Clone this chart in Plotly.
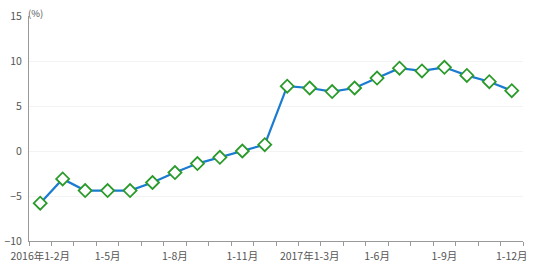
import plotly.graph_objects as go

categories = (["2016年1-2月"] + [f"1-{m}月" for m in range(3, 13)]
              + ["2017年1-2月"] + [f"1-{m}月" for m in range(3, 13)])
values = [-5.8, -3.1, -4.4, -4.4, -4.4, -3.5, -2.4, -1.4, -0.7, 0.0, 0.7,
          7.2, 7.0, 6.6, 7.0, 8.1, 9.2, 8.9, 9.3, 8.4, 7.7, 6.7]
tick_idx = [0, 3, 6, 9, 12, 15, 18, 21]
tick_text = ["2016年1-2月", "1-5月", "1-8月", "1-11月", "2017年1-3月", "1-6月", "1-9月", "1-12月"]
y_ticks = [-10, -5, 0, 5, 10, 15]

x = list(range(len(categories)))
font_family = "Noto Sans CJK SC, DejaVu Sans, sans-serif"

fig = go.Figure()
fig.add_trace(go.Scatter(
    x=x, y=values, mode="lines+markers",
    line=dict(color="#1a7bd0", width=2.2),
    marker=dict(symbol="diamond", size=10, color="white",
                line=dict(color="#2a9a2a", width=1.8)),
    text=categories, hoverinfo="text+y",
))

fig.update_layout(
    width=535, height=265,
    margin=dict(l=29, r=12, t=16, b=24),
    paper_bgcolor="white", plot_bgcolor="white",
    showlegend=False,
    font=dict(family=font_family, size=10, color="#555"),
    xaxis=dict(
        range=[-0.5, len(categories) - 0.5], automargin=False,
        tickmode="array", tickvals=tick_idx, ticktext=tick_text,
        ticks="", showgrid=False, zeroline=False,
        showline=True, linecolor="#999", linewidth=1,
        ticklabelstandoff=5,
        tickfont=dict(size=10.5, color="#555"),
        minor=dict(ticks="outside", tickvals=[i - 0.5 for i in range(len(categories) + 1)],
                   ticklen=4, tickcolor="#999", tickwidth=1, showgrid=False),
    ),
    yaxis=dict(
        range=[-10, 15], tickvals=y_ticks, automargin=False,
        showgrid=True, gridcolor="#f3f3f3", gridwidth=1,
        zeroline=False, showline=True, linecolor="#999", linewidth=1,
        ticks="", ticklabelstandoff=4, tickfont=dict(size=10.5, color="#555"),
    ),
)
fig.add_annotation(x=0, y=1, xref="paper", yref="paper", text="(%)",
                   showarrow=False, xanchor="left", yanchor="bottom",
                   xshift=-3, yshift=-6, font=dict(size=9.5, color="#555"))

fig.write_html("out.html")
